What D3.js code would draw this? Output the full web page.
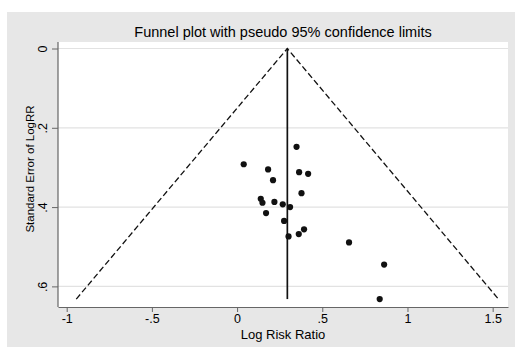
<!DOCTYPE html>
<html>
<head>
<meta charset="utf-8">
<script src="https://cdn.jsdelivr.net/npm/d3@7"></script>
<style>
  body { margin: 0; background: #fff; }
  svg { display: block; font-family: "Liberation Sans", Arial, sans-serif; }
</style>
</head>
<body>
<svg id="chart" width="520" height="349"></svg>
<script>
// study estimates
let logRR = [0.349, 0.039, 0.182, 0.364, 0.417, 0.211, 0.378, 0.139, 0.149, 0.219,
             0.268, 0.311, 0.170, 0.276, 0.302, 0.362, 0.393, 0.657, 0.863, 0.837];
let seLogRR = [0.248, 0.292, 0.305, 0.312, 0.316, 0.332, 0.365, 0.379, 0.389, 0.387,
               0.393, 0.400, 0.415, 0.435, 0.474, 0.468, 0.456, 0.489, 0.545, 0.632];
let pooled = 0.295;
let xTicks = [-1, -0.5, 0, 0.5, 1, 1.5];
let xTickLabels = ["-1", "-.5", "0", ".5", "1", "1.5"];
let yTicks = [0, 0.2, 0.4, 0.6];
let yTickLabels = ["0", ".2", ".4", ".6"];

const svg = d3.select("#chart");
const pLeft = 58, pRight = 508, pTop = 42, pBottom = 307;

const x = d3.scaleLinear().domain([-1.051, 1.59]).range([pLeft, pRight]);
const y = d3.scaleLinear().domain([-0.0164, 0.652]).range([pTop, pBottom]);

// outer gray region
svg.append("rect")
    .attr("x", 7).attr("y", 12)
    .attr("width", 508).attr("height", 335)
    .attr("fill", "#e7e7e7");

svg.append("rect")
    .attr("x", pLeft).attr("y", pTop)
    .attr("width", pRight - pLeft).attr("height", pBottom - pTop)
    .attr("fill", "#ffffff");

// grid
svg.selectAll("line.grid")
    .data(yTicks)
    .enter()
    .append("line")
        .attr("class", "grid")
        .attr("x1", pLeft).attr("x2", pRight)
        .attr("y1", d => y(d)).attr("y2", d => y(d))
        .attr("stroke", "#e2e2e2")
        .attr("stroke-width", 1.2);

// axes
const xAxis = d3.axisBottom(x)
    .tickValues(xTicks)
    .tickFormat((d, i) => xTickLabels[i])
    .tickSize(5)
    .tickSizeOuter(0);
const gx = svg.append("g")
    .attr("transform", `translate(0,${pBottom})`)
    .call(xAxis);
gx.select(".domain").attr("stroke", "#666").attr("stroke-width", 1.2);
gx.selectAll(".tick line").attr("stroke", "#666");
gx.selectAll(".tick text")
    .attr("y", 7)
    .attr("dy", "0.71em")
    .attr("font-size", 12.5)
    .attr("font-family", "Liberation Sans, Arial, sans-serif")
    .attr("fill", "#000");

const yAxis = d3.axisLeft(y)
    .tickValues(yTicks)
    .tickFormat((d, i) => yTickLabels[i])
    .tickSize(6)
    .tickSizeOuter(0);
const gy = svg.append("g")
    .attr("transform", `translate(${pLeft},0)`)
    .call(yAxis);
gy.select(".domain").attr("stroke", "#666").attr("stroke-width", 1.2)
    .attr("d", `M0,${pTop}V${pBottom}`);
gy.selectAll(".tick line").attr("stroke", "#666");
gy.selectAll(".tick text")
    .attr("x", null).attr("dy", null)
    .attr("transform", "translate(-11,0) rotate(-90)")
    .attr("text-anchor", "middle")
    .attr("y", 0)
    .attr("font-size", 12.5)
    .attr("font-family", "Liberation Sans, Arial, sans-serif")
    .attr("fill", "#000");

// funnel limits
const seMax = d3.max(seLogRR);
svg.append("path")
    .attr("d", d3.line()([
        [x(pooled - 1.96 * seMax), y(seMax)],
        [x(pooled), y(0)],
        [x(pooled + 1.96 * seMax), y(seMax)]
    ]))
    .attr("fill", "none")
    .attr("stroke", "#111")
    .attr("stroke-width", 1.3)
    .attr("stroke-dasharray", "6,3");

// pooled estimate
svg.append("line")
    .attr("x1", x(pooled)).attr("x2", x(pooled))
    .attr("y1", y(0)).attr("y2", y(seMax))
    .attr("stroke", "#111")
    .attr("stroke-width", 1.7);

// studies
svg.selectAll("circle.pt")
    .data(logRR)
    .enter()
    .append("circle")
        .attr("class", "pt")
        .attr("cx", d => x(d))
        .attr("cy", (d, i) => y(seLogRR[i]))
        .attr("r", 3.1)
        .attr("fill", "#111");

// titles
svg.append("text")
    .attr("x", 283).attr("y", 36.5)
    .attr("text-anchor", "middle")
    .attr("font-size", 14.5)
    .attr("fill", "#000")
    .text("Funnel plot with pseudo 95% confidence limits");

svg.append("text")
    .attr("x", 283).attr("y", 338.5)
    .attr("text-anchor", "middle")
    .attr("font-size", 13)
    .attr("fill", "#000")
    .text("Log Risk Ratio");

svg.append("text")
    .attr("transform", "translate(34,169) rotate(-90)")
    .attr("text-anchor", "middle")
    .attr("font-size", 11.5)
    .attr("fill", "#000")
    .text("Standard Error of LogRR");
</script>
</body>
</html>
